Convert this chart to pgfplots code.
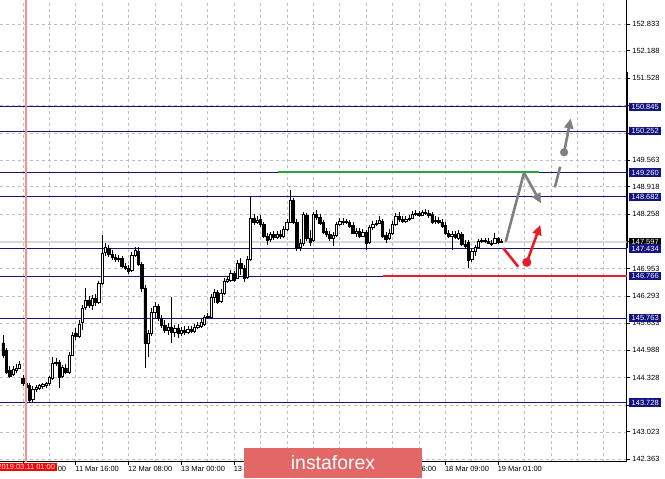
\documentclass[border=0pt]{standalone}
\usepackage{pgfplots}
\pgfplotsset{compat=1.18}
\usepackage{pgfplotstable}
\usepackage{fontspec}
\setmainfont{Liberation Sans}
\usetikzlibrary{arrows.meta}

\definecolor{mtnavy}{RGB}{20,20,128}
\definecolor{gridgray}{RGB}{190,190,190}
\definecolor{pricegray}{RGB}{215,215,215}
\definecolor{arrowgray}{RGB}{128,128,128}
\definecolor{levelred}{RGB}{232,28,36}
\definecolor{levelgreen}{RGB}{40,165,60}
\definecolor{markpink}{RGB}{255,140,140}
\definecolor{brand}{RGB}{226,104,104}

% hourly candles, h = hours from 11 Mar 00:00
\pgfplotstableread{
h o hi lo c
-6 145.163 145.355 144.803 144.875
-5 144.995 145.043 144.419 144.467
-4 144.515 144.611 144.323 144.371
-3 144.419 144.611 144.371 144.539
-2 144.515 144.659 144.443 144.563
-1 144.563 144.731 144.539 144.659
0 144.299 144.395 144.131 144.179
1 144.179 144.227 143.987 144.083
2 144.131 144.203 143.723 143.771
3 143.795 144.131 143.747 144.035
4 144.035 144.155 143.987 144.083
5 144.059 144.179 144.035 144.131
6 144.107 144.203 144.059 144.155
7 144.131 144.227 144.083 144.179
8 144.179 144.371 144.131 144.323
9 144.299 144.827 144.275 144.683
10 144.683 144.803 144.611 144.707
11 144.707 144.755 144.083 144.347
12 144.371 144.635 144.323 144.587
13 144.563 144.659 144.419 144.467
14 144.467 144.947 144.419 144.875
15 144.875 145.427 144.851 145.355
16 145.403 145.523 145.235 145.331
17 145.331 145.715 145.283 145.619
18 145.667 146.075 145.475 146.003
19 146.027 146.483 145.955 146.195
20 146.195 146.291 146.003 146.075
21 146.075 146.315 145.955 146.243
22 146.243 146.339 146.051 146.147
23 146.147 146.651 146.099 146.603
24 146.603 147.755 146.555 147.323
25 147.347 147.563 147.251 147.467
26 147.443 147.515 147.227 147.299
27 147.299 147.395 147.155 147.227
28 147.227 147.299 147.107 147.179
29 147.179 147.275 147.107 147.203
30 147.203 147.251 146.963 147.011
31 147.011 147.083 146.915 146.963
32 146.963 147.035 146.819 146.891
33 146.915 147.347 146.867 147.275
34 147.275 147.467 147.227 147.395
35 147.371 147.467 147.011 147.059
36 147.059 147.107 146.387 146.483
37 146.483 146.555 144.563 145.163
38 145.163 145.475 144.827 145.403
39 145.403 146.003 145.331 145.907
40 145.907 146.147 145.763 146.051
41 146.051 146.099 145.691 145.763
42 145.763 145.835 145.523 145.595
43 145.595 145.715 145.403 145.475
44 145.475 145.643 145.355 145.547
45 145.547 146.267 145.163 145.427
46 145.427 145.595 145.307 145.523
47 145.523 145.619 145.283 145.403
48 145.403 145.547 145.331 145.475
49 145.475 145.571 145.355 145.427
50 145.427 145.571 145.379 145.499
51 145.499 145.571 145.403 145.451
52 145.451 145.619 145.403 145.547
53 145.547 145.667 145.499 145.595
54 145.571 145.739 145.523 145.667
55 145.619 145.835 145.571 145.787
56 145.787 145.883 145.739 145.811
57 145.787 146.339 145.763 146.267
58 146.267 146.459 146.123 146.387
59 146.387 146.435 146.099 146.147
60 146.171 146.459 146.123 146.363
61 146.363 146.723 146.315 146.651
62 146.651 146.771 146.603 146.699
63 146.675 146.915 146.627 146.843
64 146.843 146.891 146.627 146.675
65 146.723 147.155 146.699 147.083
66 147.083 147.203 146.795 146.963
67 146.963 147.035 146.627 146.723
68 146.747 147.251 146.699 147.179
69 147.179 148.691 147.131 148.163
70 148.163 148.259 147.995 148.067
71 148.067 148.211 148.019 148.115
72 148.139 148.235 147.947 148.019
73 148.019 148.067 147.683 147.731
74 147.731 147.803 147.515 147.635
75 147.659 147.827 147.587 147.779
76 147.779 147.851 147.635 147.707
77 147.707 147.851 147.659 147.779
78 147.779 147.875 147.659 147.731
79 147.731 147.971 147.683 147.899
80 147.899 148.139 147.851 148.067
81 148.067 148.835 148.043 148.595
82 148.595 148.643 148.019 148.067
83 148.067 148.139 147.371 147.443
84 147.467 147.659 147.371 147.563
85 147.563 148.307 147.491 148.259
86 148.235 148.283 147.611 147.683
87 147.683 147.875 147.491 147.587
88 147.635 148.307 147.587 148.259
89 148.259 148.355 148.115 148.187
90 148.187 148.259 147.995 148.043
91 148.067 148.115 147.779 147.827
92 147.851 147.923 147.707 147.779
93 147.779 147.851 147.611 147.683
94 147.683 147.827 147.491 147.755
95 147.755 148.067 147.707 148.019
96 148.019 148.163 147.971 148.091
97 148.091 148.163 147.995 148.067
98 148.067 148.139 148.019 148.091
99 148.067 148.115 147.923 147.971
100 147.995 148.067 147.779 147.803
101 147.803 147.923 147.707 147.851
102 147.851 147.923 147.683 147.731
103 147.731 147.899 147.707 147.827
104 147.827 147.875 147.395 147.563
105 147.587 147.995 147.539 147.947
106 147.947 148.091 147.875 148.019
107 148.019 148.115 147.971 148.043
108 148.043 148.211 148.019 148.115
109 148.091 148.139 147.683 147.731
110 147.755 147.827 147.563 147.659
111 147.683 147.899 147.635 147.803
112 147.803 148.091 147.755 148.019
113 148.019 148.283 147.971 148.211
114 148.211 148.307 148.067 148.139
115 148.139 148.211 148.043 148.091
116 148.091 148.211 148.043 148.139
117 148.139 148.235 148.091 148.163
118 148.163 148.331 148.139 148.259
119 148.259 148.355 148.211 148.283
120 148.283 148.331 148.187 148.235
121 148.235 148.355 148.211 148.307
122 148.307 148.379 148.235 148.283
123 148.283 148.355 148.163 148.235
124 148.259 148.307 148.019 148.067
125 148.091 148.211 148.019 148.115
126 148.115 148.187 148.019 148.067
127 148.067 148.139 147.923 147.971
128 147.995 148.067 147.755 147.803
129 147.803 147.875 147.683 147.731
130 147.731 147.851 147.395 147.779
131 147.779 147.851 147.659 147.707
132 147.683 147.875 147.635 147.803
133 147.779 147.827 147.491 147.539
134 147.539 147.635 147.419 147.491
135 147.587 147.635 146.963 147.155
136 147.179 147.419 147.107 147.371
137 147.371 147.515 147.251 147.467
138 147.467 147.659 147.443 147.611
139 147.611 147.683 147.563 147.635
140 147.635 147.683 147.563 147.611
141 147.611 147.683 147.539 147.563
142 147.563 147.635 147.491 147.539
143 147.563 147.803 147.539 147.683
144 147.683 147.707 147.539 147.587
145 147.587 147.659 147.563 147.597
}\candles

\pgfplotsset{
  chartframe/.style={
    at={(0,17.3bp)}, anchor=south west, scale only axis,
    width=626.7bp, height=461.7bp,
    xmin=-6.94, xmax=182.97, ymin=142.305, ymax=153.41,
  },
  level/.style={mtnavy, line width=0.8bp, forget plot},
}
\tikzset{
  lbl/.style={anchor=west, fill=mtnavy, text=white, inner xsep=2.3bp,
    inner ysep=1.4bp, xshift=2.5bp, font=\fontsize{7.5}{8}\selectfont},
}

\begin{document}
\begin{tikzpicture}
% grid, scales, levels and wicks
\begin{axis}[chartframe,
  axis x line*=bottom, axis y line*=right,
  axis line style={black, line width=0.8bp},
  tick align=outside, major tick length=3.5bp, minor tick length=0pt,
  tick style={black, line width=0.7bp},
  xtick={0,16,...,144},
  xticklabels={11 Mar 00:00,11 Mar 16:00,12 Mar 08:00,13 Mar 00:00,13 Mar 16:00,,,15 Mar 16:00,18 Mar 09:00,19 Mar 01:00},
  minor xtick={8,24,...,136,152,160,168,176},
  ytick={142.363,143.023,143.668,144.328,144.988,145.633,146.293,146.953,147.613,148.258,148.918,149.563,150.208,150.868,151.528,152.188,152.833},
  yticklabels={142.363,143.023,143.668,144.328,144.988,145.633,146.293,146.953,,148.258,148.918,149.563,,,151.528,152.188,152.833},
  ticklabel style={font=\fontsize{7.5}{8}\selectfont, inner sep=0pt},
  x tick label style={anchor=north west, xshift=-0.5bp, yshift=-1bp},
  y tick label style={anchor=west, xshift=2bp},
  xmajorgrids, xminorgrids, ymajorgrids,
  major grid style={gridgray, dash pattern=on 3bp off 3bp, line width=0.6bp},
  minor grid style={gridgray, dash pattern=on 3bp off 3bp, line width=0.6bp},
]
\addplot[pricegray, line width=1.8bp, forget plot] coordinates {(-6.94,147.597) (182.97,147.597)};
\addplot[level] coordinates {(-6.94,150.845) (182.97,150.845)};
\addplot[level] coordinates {(-6.94,150.252) (182.97,150.252)};
\addplot[level] coordinates {(-6.94,149.260) (182.97,149.260)};
\addplot[level] coordinates {(-6.94,148.682) (182.97,148.682)};
\addplot[level] coordinates {(-6.94,147.434) (182.97,147.434)};
\addplot[level] coordinates {(-6.94,146.766) (182.97,146.766)};
\addplot[level] coordinates {(-6.94,145.763) (182.97,145.763)};
\addplot[level] coordinates {(-6.94,143.728) (182.97,143.728)};
\addplot[draw=none, mark=none, forget plot,
  error bars/.cd, y dir=both, y explicit, error mark=none,
  error bar style={draw=black, line width=0.75bp}]
  table[x=h, y expr={(\thisrow{hi}+\thisrow{lo})/2},
        y error expr={(\thisrow{hi}-\thisrow{lo})/2}] {\candles};
\end{axis}

% candle bodies
\begin{axis}[chartframe, hide axis, ybar stacked, bar width=2.3bp]
\addplot[draw=none, fill=none] table[x=h, y expr={min(\thisrow{o},\thisrow{c})}] {\candles};
\addplot[draw=black, fill=white, line width=0.6bp] table[x=h, y expr={max(\thisrow{c}-\thisrow{o},0)}] {\candles};
\addplot[draw=black, fill=black, line width=0.6bp] table[x=h, y expr={max(\thisrow{o}-\thisrow{c},0)}] {\candles};
\end{axis}

% drawn objects and labels
\begin{axis}[chartframe, hide axis, clip=false]
\addplot[markpink, line width=1.8bp] coordinates {(1,142.305) (1,153.41)};
\addplot[levelgreen, line width=2.5bp] coordinates {(77.3,149.272) (156.4,149.272)};
\addplot[levelred, line width=2.2bp] coordinates {(109.1,146.766) (182.97,146.766)};
\addplot[black, line width=1.6bp] coordinates {(183.2,151.678) (183.2,147.445)};
% forecast paths
\addplot[arrowgray, line width=2.6bp, line join=round,
  -{Triangle[length=10bp,width=9bp]}]
  coordinates {(146.3,147.596) (151.85,149.255) (157.0,148.52)};
\addplot[arrowgray, line width=2.6bp] coordinates {(161.2,148.905) (162.8,149.400)};
\addplot[arrowgray, only marks, mark=*, mark size=3.9bp] coordinates {(164.0,149.747)};
\addplot[arrowgray, line width=2.6bp, -{Triangle[length=10bp,width=9bp]}]
  coordinates {(164.0,149.747) (166.0,150.56)};
\addplot[levelred, line width=2.6bp] coordinates {(145.6,147.438) (150.1,146.996)};
\addplot[levelred, only marks, mark=*, mark size=4.3bp] coordinates {(152.7,147.101)};
\addplot[levelred, line width=2.6bp, -{Triangle[length=10bp,width=9bp]}]
  coordinates {(152.7,147.101) (156.8,148.0)};
% price labels
\node[lbl] at (axis cs:182.97,150.845) {150.845};
\node[lbl] at (axis cs:182.97,150.252) {150.252};
\node[lbl] at (axis cs:182.97,149.260) {149.260};
\node[lbl] at (axis cs:182.97,148.682) {148.682};
\node[lbl, fill=black] at (axis cs:182.97,147.597) {147.597};
\node[lbl] at (axis cs:182.97,147.434) {147.434};
\node[lbl] at (axis cs:182.97,146.766) {146.766};
\node[lbl] at (axis cs:182.97,145.763) {145.763};
\node[lbl] at (axis cs:182.97,143.728) {143.728};
\node[anchor=north, fill=red, text=white, inner xsep=2bp, inner ysep=1.5bp,
  yshift=-1.3bp, font=\fontsize{7.5}{8}\selectfont] at (axis cs:1,142.305) {2019.03.11 01:00};
\node[fill=brand, text=white, minimum width=178bp, minimum height=30bp, inner sep=0pt,
  font=\fontsize{19.5}{20}\selectfont] at (rel axis cs:0.5314,-0.0028) {instaforex};
\end{axis}
\pgfresetboundingbox
\path[use as bounding box] (0,0) rectangle (665bp,479bp);
\end{tikzpicture}
\end{document}
